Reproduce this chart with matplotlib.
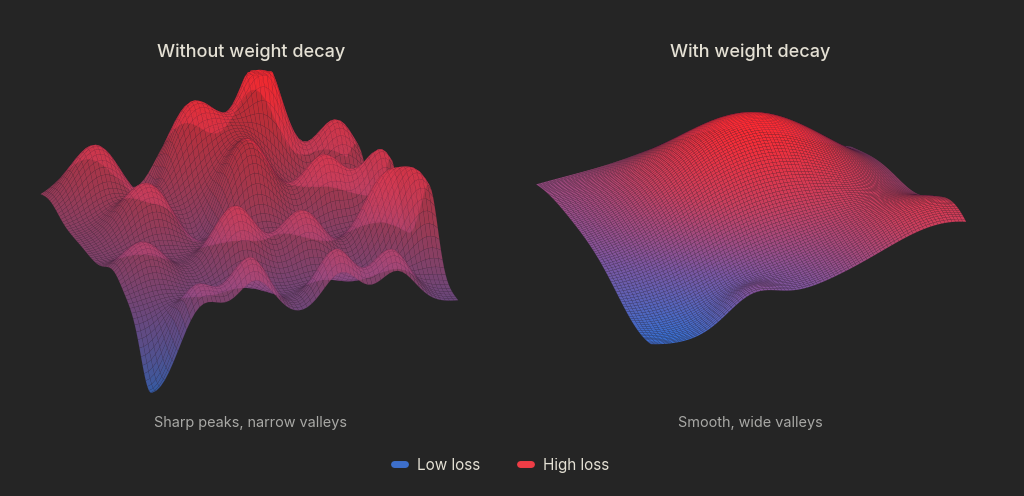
import numpy as np
import matplotlib
matplotlib.use("Agg")
import matplotlib.pyplot as plt
from matplotlib.colors import LinearSegmentedColormap, Normalize

BG = "#252525"
TITLE_COLOR = "#e4e0d4"
SUB_COLOR = "#a9a9a6"

titles = ["Without weight decay", "With weight decay"]
subtitles = ["Sharp peaks, narrow valleys", "Smooth, wide valleys"]
legend_labels = ["Low loss", "High loss"]
legend_colors = ["#3d6fcb", "#ee3d46"]

# Loss-landscape bumps (centre x, centre y, amplitude, width)
sharp_x   = [0.08, 0.06, 0.08, 0.06, 0.10, 0.35, 0.35, 0.35, 0.35, 0.65, 0.65, 0.65, 0.65, 0.95, 0.95, 0.95, 0.95, 0.98, 0.20, 0.40, 0.75]
sharp_y   = [0.15, 0.32, 0.47, 0.70, 0.93, 0.22, 0.55, 0.80, 0.38, 0.10, 0.40, 0.62, 0.88, 0.16, 0.34, 0.62, 0.80, 0.00, 0.60, 0.97, 0.97]
sharp_amp = [0.55, -0.25, 0.85, 1.15, 0.60, 0.50, 0.75, 0.60, -0.20, 0.35, 0.60, 0.50, 0.65, 0.35, 0.50, 0.50, 0.45, -0.60, 0.40, 0.65, 0.75]
sharp_w   = [0.08, 0.05, 0.09, 0.07, 0.07, 0.08, 0.08, 0.07, 0.05, 0.07, 0.07, 0.07, 0.07, 0.06, 0.06, 0.06, 0.06, 0.08, 0.07, 0.06, 0.07]
sharp_base = 0.15
sharp_back_rise = 0.45
sharp_ceiling = 1.62

smooth_x   = [0.95, 0.30, 0.05, 0.90, 0.98, 0.55]
smooth_y   = [0.08, 0.58, 0.05, 0.95, 0.32, 0.35]
smooth_amp = [-0.55, 1.20, 0.15, 0.70, 0.30, 0.15]
smooth_w   = [0.24, 0.26, 0.18, 0.20, 0.08, 0.20]
smooth_base = 0.3
smooth_back_rise = 0.0
smooth_ceiling = 10.0

cmap = LinearSegmentedColormap.from_list(
    "loss", ["#3a6fd0", "#7a56a0", "#c7405f", "#ff2a30"])


def surface(xs, ys, amps, ws, base, rise, ceiling, n):
    g = np.linspace(0, 1, n)
    X, Y = np.meshgrid(g, g)
    Z = base + rise * (1 - X)
    for cx, cy, a, w in zip(xs, ys, amps, ws):
        Z = Z + a * np.exp(-((X - cx) ** 2 + (Y - cy) ** 2) / (2 * w ** 2))
    return X, Y, np.minimum(Z, ceiling)


fig = plt.figure(figsize=(10.24, 4.96), dpi=100, facecolor=BG)

panels = [
    dict(data=(sharp_x, sharp_y, sharp_amp, sharp_w, sharp_base, sharp_back_rise, sharp_ceiling), n=72,
         pos=[-0.008, 0.03, 0.49, 1.0], elev=15, azim=-20, alpha=0.75, zasp=0.72, zoom=1.16, gamma=0.8),
    dict(data=(smooth_x, smooth_y, smooth_amp, smooth_w, smooth_base, smooth_back_rise, smooth_ceiling), n=90,
         pos=[0.482, 0.07, 0.49, 1.0], elev=20, azim=-20, alpha=1.0, zasp=0.42, zoom=1.11, gamma=0.85),
]
title_x = [0.245, 0.733]

for i, p in enumerate(panels):
    ax = fig.add_axes(p["pos"], projection="3d", proj_type="ortho")
    ax.set_facecolor(BG)
    ax.patch.set_alpha(0.0)
    X, Y, Z = surface(*p["data"], p["n"])
    norm = Normalize(Z.min(), Z.max())
    fc = cmap(norm(Z) ** p["gamma"])
    fc[..., 3] = p["alpha"]
    ax.plot_surface(X, Y, Z, facecolors=fc, rstride=1, cstride=1,
                    linewidth=0.15, edgecolor=(0.2, 0.1, 0.2, 0.35),
                    antialiased=True, shade=False)
    ax.view_init(elev=p["elev"], azim=p["azim"])
    ax.set_box_aspect((1, 1, p["zasp"]), zoom=p["zoom"])
    ax.set_axis_off()
    fig.text(title_x[i], 0.895, titles[i], ha="center", va="center", fontsize=13,
             color=TITLE_COLOR, family="Inter", fontweight="medium")
    fig.text(title_x[i], 0.147, subtitles[i], ha="center", va="center", fontsize=10.4,
             color=SUB_COLOR, family="Inter")

# legend
handles = [plt.Line2D([], [], color=c, lw=5, solid_capstyle="round") for c in legend_colors]
fig.legend(handles, legend_labels, loc="center", bbox_to_anchor=(0.49, 0.062),
           ncol=2, frameon=False, labelcolor=TITLE_COLOR,
           handlelength=0.7, columnspacing=2.6, handletextpad=0.8,
           prop={"family": "Inter", "size": 11})

fig.savefig("out.png", dpi=100, facecolor=BG)
